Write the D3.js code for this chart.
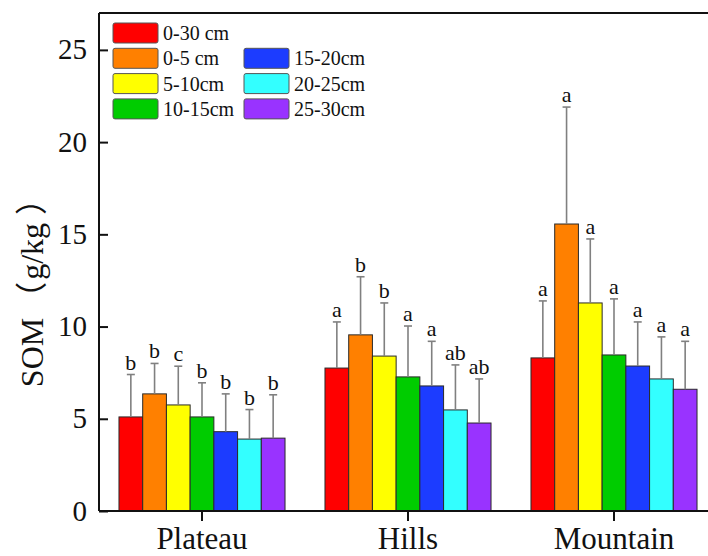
<!DOCTYPE html>
<html>
<head>
<meta charset="utf-8">
<script src="https://cdn.jsdelivr.net/npm/d3@7"></script>
<style>
  html, body { margin: 0; padding: 0; background: #fff; }
  svg { display: block; }
</style>
</head>
<body>
<div id="chart"></div>
<script>
const categories = ["Plateau", "Hills", "Mountain"];
const series = ["0-30 cm", "0-5 cm", "5-10cm", "10-15cm", "15-20cm", "20-25cm", "25-30cm"];
const colors = ["#ff0000", "#ff8000", "#ffff00", "#00cc00", "#1c3cff", "#33ffff", "#9933ff"];

const plateauMean = [5.1, 6.35, 5.75, 5.1, 4.3, 3.9, 3.95];
const plateauErr  = [2.3, 1.65, 2.1, 1.85, 2.05, 1.6, 2.35];
const plateauSig  = ["b", "b", "c", "b", "b", "b", "b"];

const hillsMean = [7.75, 9.55, 8.4, 7.27, 6.78, 5.48, 4.77];
const hillsErr  = [2.5, 3.15, 2.88, 2.76, 2.42, 2.44, 2.39];
const hillsSig  = ["a", "b", "b", "a", "a", "ab", "ab"];

const mountainMean = [8.3, 15.56, 11.28, 8.46, 7.86, 7.16, 6.6];
const mountainErr  = [3.09, 6.34, 3.47, 3.04, 2.39, 2.28, 2.6];
const mountainSig  = ["a", "a", "a", "a", "a", "a", "a"];

const yTicks = [0, 5, 10, 15, 20, 25];

const groups = [
  { name: categories[0], mean: plateauMean, err: plateauErr, sig: plateauSig },
  { name: categories[1], mean: hillsMean, err: hillsErr, sig: hillsSig },
  { name: categories[2], mean: mountainMean, err: mountainErr, sig: mountainSig }
];

const W = 708, H = 556;
const pLeft = 99, pRight = 717, pTop = 13, pBottom = 511;
const serif = "'Liberation Serif', 'Times New Roman', 'Noto Sans CJK SC', serif";

const svg = d3.select("#chart").append("svg").attr("width", W).attr("height", H);

const x0 = d3.scaleBand().domain(categories).range([pLeft, pRight])
  .paddingInner(0.194).paddingOuter(0.097);
const x1 = d3.scaleBand().domain(series).range([0, x0.bandwidth()]).padding(0);
const y = d3.scaleLinear().domain([0, 27]).range([pBottom, pTop]);

const flat = [];
groups.forEach(g => series.forEach((s, i) => flat.push({
  g: g.name, s, i, v: g.mean[i], e: g.err[i], sig: g.sig[i]
})));

// bars
svg.append("g").selectAll("rect").data(flat).enter().append("rect")
  .attr("x", d => x0(d.g) + x1(d.s))
  .attr("y", d => y(d.v))
  .attr("width", x1.bandwidth())
  .attr("height", d => y(0) - y(d.v))
  .attr("fill", d => colors[d.i])
  .attr("stroke", "#2a2a2a")
  .attr("stroke-width", 1);

// error bars
const cx = d => x0(d.g) + x1(d.s) + x1.bandwidth() / 2;
const errG = svg.append("g").attr("stroke", "#808080").attr("stroke-width", 1.6);
errG.selectAll("line.v").data(flat).enter().append("line")
  .attr("class", "v")
  .attr("x1", cx).attr("x2", cx)
  .attr("y1", d => y(d.v))
  .attr("y2", d => y(d.v + d.e));
errG.selectAll("line.c").data(flat).enter().append("line")
  .attr("class", "c")
  .attr("x1", d => cx(d) - 4)
  .attr("x2", d => cx(d) + 4)
  .attr("y1", d => y(d.v + d.e))
  .attr("y2", d => y(d.v + d.e));

// significance letters
svg.append("g").selectAll("text").data(flat).enter().append("text")
  .attr("x", cx)
  .attr("y", d => y(d.v + d.e) - 5)
  .attr("text-anchor", "middle")
  .attr("font-family", serif)
  .attr("font-size", 22)
  .attr("fill", "#111")
  .text(d => d.sig);

// top frame line
svg.append("line").attr("x1", pLeft).attr("x2", W).attr("y1", pTop).attr("y2", pTop)
  .attr("stroke", "#111").attr("stroke-width", 2);

// y axis
const yAxis = d3.axisRight(y).tickValues(yTicks).tickSize(9).tickFormat("");
const yg = svg.append("g").attr("transform", `translate(${pLeft},0)`).call(yAxis);
yg.select(".domain").attr("stroke", "#111").attr("stroke-width", 2)
  .attr("d", `M0,${pTop}V${pBottom}`);
yg.selectAll(".tick line").attr("stroke", "#111").attr("stroke-width", 2);
svg.append("g").selectAll("text").data(yTicks).enter().append("text")
  .attr("x", pLeft - 12)
  .attr("y", d => y(d))
  .attr("dy", "0.33em")
  .attr("text-anchor", "end")
  .attr("font-family", serif)
  .attr("font-size", 29)
  .attr("fill", "#111")
  .text(d => d);

// x axis
const xAxis = d3.axisBottom(x0).tickSize(10).tickPadding(8);
const xg = svg.append("g").attr("transform", `translate(0,${pBottom})`).call(xAxis);
xg.select(".domain").attr("stroke", "#111").attr("stroke-width", 2)
  .attr("d", `M${pLeft},0H${W}`);
xg.selectAll(".tick line").attr("stroke", "#111").attr("stroke-width", 2);
xg.selectAll(".tick text").attr("font-family", serif).attr("font-size", 31)
  .attr("fill", "#111").attr("dy", "0").attr("y", 38);

// y title
const yt = svg.append("text")
  .attr("transform", `translate(43,285) rotate(-90)`)
  .attr("text-anchor", "middle")
  .attr("font-family", serif)
  .attr("font-size", 32)
  .attr("fill", "#111");
yt.append("tspan").text("SOM");
yt.append("tspan").attr("dx", 4).text("（");
yt.append("tspan").attr("dx", 2).text("g/kg");
yt.append("tspan").attr("dx", 8).text("）");

// legend
const legendItems = [
  { s: series[0], c: colors[0], col: 0, row: 0 },
  { s: series[1], c: colors[1], col: 0, row: 1 },
  { s: series[2], c: colors[2], col: 0, row: 2 },
  { s: series[3], c: colors[3], col: 0, row: 3 },
  { s: series[4], c: colors[4], col: 1, row: 1 },
  { s: series[5], c: colors[5], col: 1, row: 2 },
  { s: series[6], c: colors[6], col: 1, row: 3 }
];
const li = svg.append("g").selectAll("g").data(legendItems).enter().append("g")
  .attr("transform", d => `translate(${113 + d.col * 131},${23 + d.row * 25.3})`);
li.append("rect").attr("width", 45).attr("height", 20).attr("rx", 2)
  .attr("fill", d => d.c).attr("stroke", "#555").attr("stroke-width", 1);
li.append("text").attr("x", 50).attr("y", 10).attr("dy", "0.35em")
  .attr("font-family", serif).attr("font-size", 20).attr("fill", "#111")
  .text(d => d.s);
</script>
</body>
</html>
